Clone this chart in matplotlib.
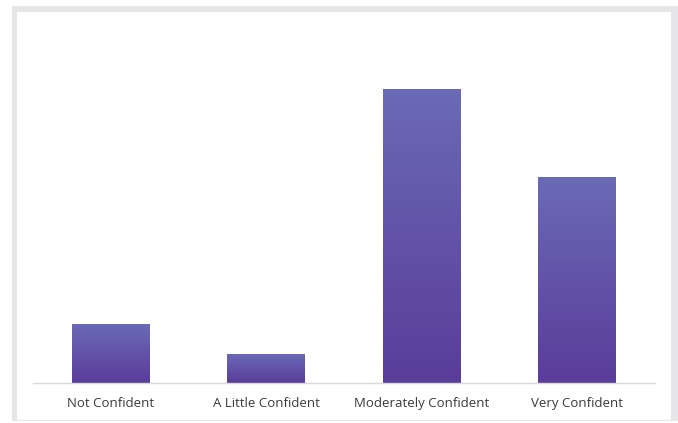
import matplotlib
matplotlib.use("Agg")
import matplotlib.pyplot as plt
import numpy as np
from matplotlib.patches import Rectangle
from matplotlib.colors import LinearSegmentedColormap

categories = ["Not Confident", "A Little Confident", "Moderately Confident", "Very Confident"]
values = [10, 5, 50, 35]

W, H = 678, 423
fig = plt.figure(figsize=(W / 100, H / 100), dpi=100)
fig.patch.set_facecolor("white")

def fx(px): return px / W
def fy(py): return 1 - py / H

# outer light-gray frame
fig.add_artist(Rectangle((fx(12), fy(421)), fx(666), 415 / H, transform=fig.transFigure,
                         facecolor="#e6e6e8", edgecolor="none", zorder=-5))
fig.add_artist(Rectangle((fx(17), fy(420)), fx(654), 408 / H, transform=fig.transFigure,
                         facecolor="white", edgecolor="none", zorder=-4))

ax_left, ax_right = 33, 655
ax_top, ax_bottom = 30, 383
ax = fig.add_axes([fx(ax_left), fy(ax_bottom), fx(ax_right - ax_left), (ax_bottom - ax_top) / H])
ax.set_zorder(1)
ax.set_facecolor("none")

cmap = LinearSegmentedColormap.from_list("g", ["#5a3c9b", "#6a6ab5"])
grad = np.linspace(0, 1, 256).reshape(-1, 1)
x = np.arange(len(categories))
bars = ax.bar(x, values, width=0.5, color="none", edgecolor="none")
for b in bars:
    x0, w, h = b.get_x(), b.get_width(), b.get_height()
    im = ax.imshow(grad, cmap=cmap, origin="lower", aspect="auto",
                   extent=(x0, x0 + w, 0, h), zorder=2)
    im.set_clip_path(b)
ax.set_xlim(-0.5, 3.5)
ax.set_ylim(0, 60)

for s in ["top", "right", "left"]:
    ax.spines[s].set_visible(False)
ax.spines["bottom"].set_color("#d9d9d9")
ax.spines["bottom"].set_linewidth(1.0)
ax.set_yticks([])
ax.set_xticks(x)
ax.set_xticklabels(categories, fontsize=9.5, color="#3a3a3a", family=["Open Sans", "DejaVu Sans"])
ax.tick_params(axis="x", length=0, pad=10)

fig.savefig("out.png", dpi=100)
